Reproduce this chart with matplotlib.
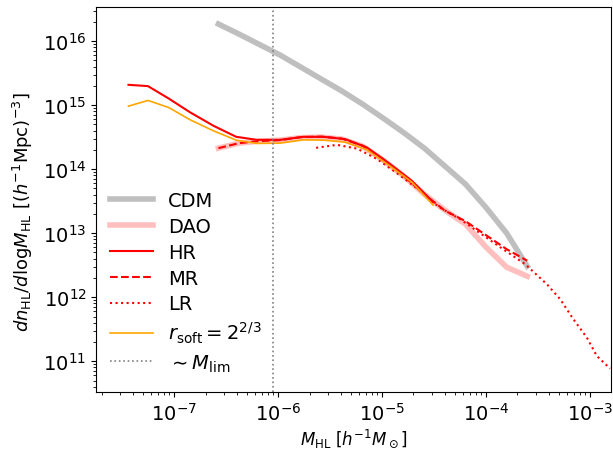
import numpy as np
import matplotlib
matplotlib.use("Agg")
import matplotlib.pyplot as plt

# log10 of halo mass [h^-1 Msun] and of dn/dlogM [(h^-1 Mpc)^-3]
log_m_cdm = [-6.575, -6.377, -6.179, -5.981, -5.783, -5.585, -5.387, -5.189,
             -4.991, -4.793, -4.595, -4.397, -4.199, -4.001, -3.803, -3.605]
log_n_cdm = [16.266, 16.109, 15.945, 15.781, 15.594, 15.406, 15.219, 15.016,
             14.797, 14.570, 14.328, 14.047, 13.766, 13.40, 13.0, 12.484]

log_m_dao = log_m_cdm
log_n_dao = [14.328, 14.406, 14.438, 14.453, 14.492, 14.500, 14.469, 14.359,
             14.141, 13.891, 13.609, 13.359, 13.141, 12.781, 12.469, 12.328]

log_m_hr = [-7.440, -7.253, -7.055, -6.846, -6.622, -6.404, -6.205, -5.981,
            -5.757, -5.564, -5.356, -5.147, -4.923, -4.714, -4.510]
log_n_hr = [15.317, 15.297, 15.105, 14.886, 14.677, 14.505, 14.458, 14.458,
            14.505, 14.505, 14.469, 14.339, 14.078, 13.817, 13.484]

log_m_mr = log_m_cdm
log_n_mr = [14.328, 14.406, 14.438, 14.453, 14.500, 14.508, 14.477, 14.367,
            14.156, 13.891, 13.609, 13.352, 13.188, 12.969, 12.750, 12.570]

log_m_lr = [-5.635, -5.436, -5.240, -5.048, -4.846, -4.654, -4.452, -4.250,
            -4.058, -3.865, -3.625, -3.416, -3.288, -3.161, -3.032, -2.936, -2.808]
log_n_lr = [14.333, 14.380, 14.320, 14.156, 13.922, 13.688, 13.406, 13.219,
            13.000, 12.781, 12.516, 12.203, 11.969, 11.656, 11.370, 11.083, 10.886]

log_m_soft = log_m_hr
log_n_soft = [14.984, 15.073, 14.964, 14.770, 14.598, 14.453, 14.402, 14.406,
              14.458, 14.453, 14.422, 14.302, 14.047, 13.797, 13.438]

m_lim = 9.0e-7


def p(a):
    return 10.0 ** np.asarray(a)


fig = plt.figure(figsize=(6.13, 4.52), dpi=100)
ax = fig.add_axes([0.157, 0.1305, 0.840, 0.8515])

ax.plot(p(log_m_cdm), p(log_n_cdm), color="#bfbfbf", lw=4, label="CDM")
ax.plot(p(log_m_dao), p(log_n_dao), color="#ffbfbf", lw=4, label="DAO")
ax.plot(p(log_m_hr), p(log_n_hr), color="red", lw=1.5, ls="-", label="HR")
ax.plot(p(log_m_mr), p(log_n_mr), color="red", lw=1.5, ls="--", label="MR")
ax.plot(p(log_m_lr), p(log_n_lr), color="red", lw=1.5, ls=":", label="LR")
ax.plot(p(log_m_soft), p(log_n_soft), color="orange", lw=1.2,
        label=r"$r_{\rm soft}=2^{2/3}$")
ax.axvline(m_lim, color="gray", ls=":", lw=1.2, label=r"$\sim M_{\rm lim}$")

ax.set_xscale("log")
ax.set_yscale("log")
ax.set_xlim(10 ** -7.75, 10 ** -2.798)
ax.set_ylim(10 ** 10.52, 10 ** 16.53)

ax.set_xlabel(r"$M_{\rm HL}\ [h^{-1}M_\odot]$", fontsize=12, labelpad=2)
ax.set_ylabel(r"$dn_{\rm HL}/d{\rm log}M_{\rm HL}\ [(h^{-1}{\rm Mpc})^{-3}]$",
              fontsize=13)
ax.yaxis.set_label_coords(-0.118, 0.47)
ax.tick_params(axis="both", which="major", labelsize=14)

ax.legend(loc="lower left", frameon=False, fontsize=14, labelspacing=0.35,
          handlelength=2.2, borderaxespad=0.3, bbox_to_anchor=(0, 0.0125))

fig.savefig("out.png", dpi=100)
